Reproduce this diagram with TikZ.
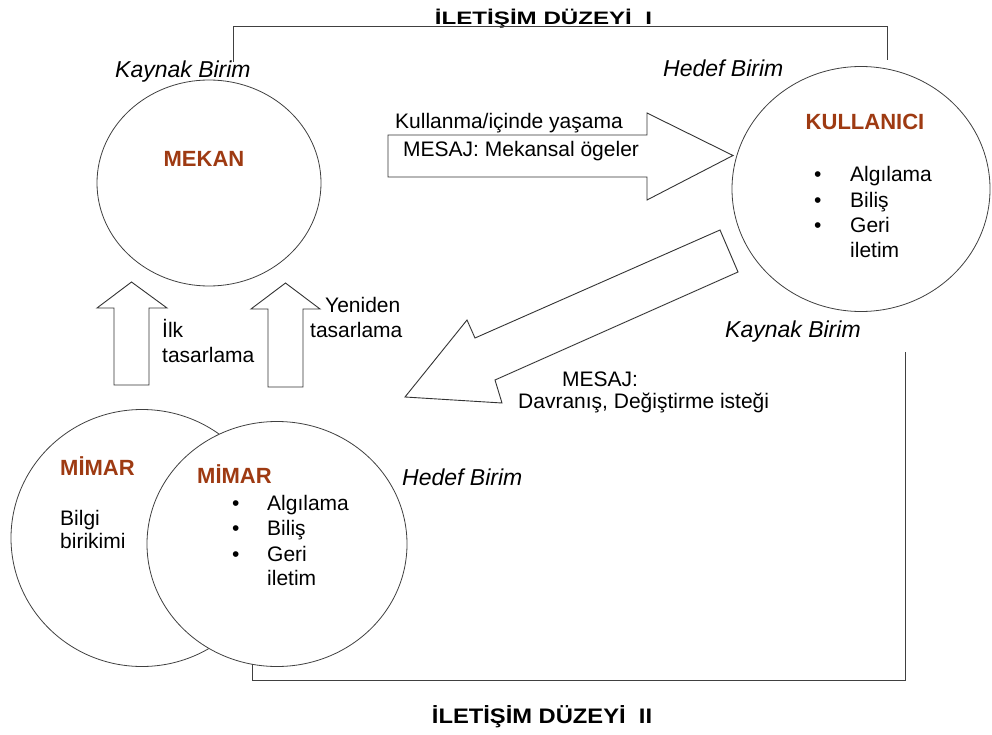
\documentclass[tikz,border=0pt]{standalone}
\usepackage{fontspec}
\setmainfont{Liberation Sans}
\usetikzlibrary{shapes.geometric}
\definecolor{brn}{RGB}{158,58,18}
\begin{document}
\begin{tikzpicture}[x=1pt,y=-1pt,
  lbl/.style={inner sep=0, anchor=base west, font=\fontsize{21}{25}\selectfont},
  ital/.style={inner sep=0, anchor=base west, font=\fontsize{23}{27}\selectfont\itshape},
  unitname/.style={inner sep=0, anchor=base, font=\fontsize{22}{26}\selectfont\bfseries, text=brn},
  unitname west/.style={unitname, anchor=base west},
  unit/.style={ellipse, draw=black!75, line width=0.8pt, fill=white, inner sep=0},
  blockarrow/.style={draw=black!80, line width=0.9pt, fill=white, line join=miter},
  frameline/.style={draw=black!75, line width=0.9pt},
  titletext/.style={inner sep=0, anchor=base}]
\useasboundingbox (0,0) rectangle (992,735);

% units
\node[unit, minimum width=224pt, minimum height=206pt] (mekan) at (209,183) {};
\node[unit, minimum width=258pt, minimum height=245pt] (kull) at (861,189) {};
\node[unit, minimum width=262pt, minimum height=257pt] (mimarA) at (142,538) {};
\node[unit, minimum width=260pt, minimum height=245pt] (mimarB) at (277,544) {};

% titles
\node[titletext] (t1) at (543.5,25) {\scalebox{1.34}[1]{\fontsize{18}{18}\selectfont\bfseries İLETİŞİM DÜZEYİ\ \ I}};
\node[titletext] (t2) at (542,723) {\scalebox{1.13}[1]{\fontsize{21}{21}\selectfont\bfseries İLETİŞİM DÜZEYİ\ \ II}};

% level frames
\coordinate (a1) at (233,62);
\coordinate (a2) at (233,26);
\coordinate (a3) at (887,26);
\coordinate (a4) at (887,60);
\draw[frameline] (a1) -- (a2) -- (a3) -- (a4);
\coordinate (b1) at (905,352);
\coordinate (b2) at (905,680);
\coordinate (b3) at (252,680);
\coordinate (b4) at (252,664);
\draw[frameline] (b1) -- (b2) -- (b3) -- (b4);

% block arrows
\draw[blockarrow] (388,135) -- (647,135) -- (647,113) -- (733,155.5) -- (647,200) -- (647,177) -- (388,177) -- cycle;
\draw[blockarrow] (720,230) -- (475,338) -- (467,320) -- (405,397) -- (502,403) -- (495,380) -- (738,272) -- cycle;
\draw[blockarrow] (114,385) -- (114,308) -- (97,308) -- (131.5,282) -- (167,308) -- (149,308) -- (149,385) -- cycle;
\draw[blockarrow] (268,387) -- (268,309) -- (251,309) -- (285.5,283) -- (320,309) -- (303,309) -- (303,387) -- cycle;

% italic role labels
\node[ital] (kb1) at (115,78) {Kaynak Birim};
\node[ital] (hb1) at (663,77) {Hedef Birim};
\node[ital] (kb2) at (725,337) {Kaynak Birim};
\node[ital] (hb2) at (402,485) {Hedef Birim};

% unit names
\node[unitname] (nmekan) at (204,167) {MEKAN};
\node[unitname] (nkull) at (865,130) {KULLANICI};
\node[unitname west] (nmimarA) at (60,475) {MİMAR};
\node[unitname west] (nmimarB) at (197,483) {MİMAR};

% KULLANICI list
\node[lbl] (kb1b) at (814,182) {•};
\node[lbl] (kl1) at (850,182) {Algılama};
\node[lbl] (kb2b) at (814,208) {•};
\node[lbl] (kl2) at (850,208) {Biliş};
\node[lbl] (kb3b) at (814,233) {•};
\node[lbl] (kl3) at (850,233) {Geri};
\node[lbl] (kl4) at (850,258) {iletim};

% MIMAR B list
\node[lbl] (mb1b) at (232,510) {•};
\node[lbl] (ml1) at (267,510) {Algılama};
\node[lbl] (mb2b) at (232,535) {•};
\node[lbl] (ml2) at (267,535) {Biliş};
\node[lbl] (mb3b) at (232,561) {•};
\node[lbl] (ml3) at (267,561) {Geri};
\node[lbl] (ml4) at (267,585) {iletim};

% MIMAR A text
\node[lbl] (bilgi) at (60,525) {Bilgi};
\node[lbl] (birik) at (60,548) {birikimi};

% arrow labels
\node[lbl] (kullanma) at (395,129) {Kullanma/içinde yaşama};
\node[lbl] (mesaj1) at (403,157) {MESAJ: Mekansal ögeler};
\node[lbl] (mesaj2) at (562,386) {MESAJ:};
\node[lbl] (davr) at (518,408) {Davranış, Değiştirme isteği};
\node[lbl] (ilk) at (162,337) {İlk};
\node[lbl] (tas1) at (162,362) {tasarlama};
\node[lbl] (yeni) at (325,312) {Yeniden};
\node[lbl] (tas2) at (310,337) {tasarlama};
\end{tikzpicture}
\end{document}
